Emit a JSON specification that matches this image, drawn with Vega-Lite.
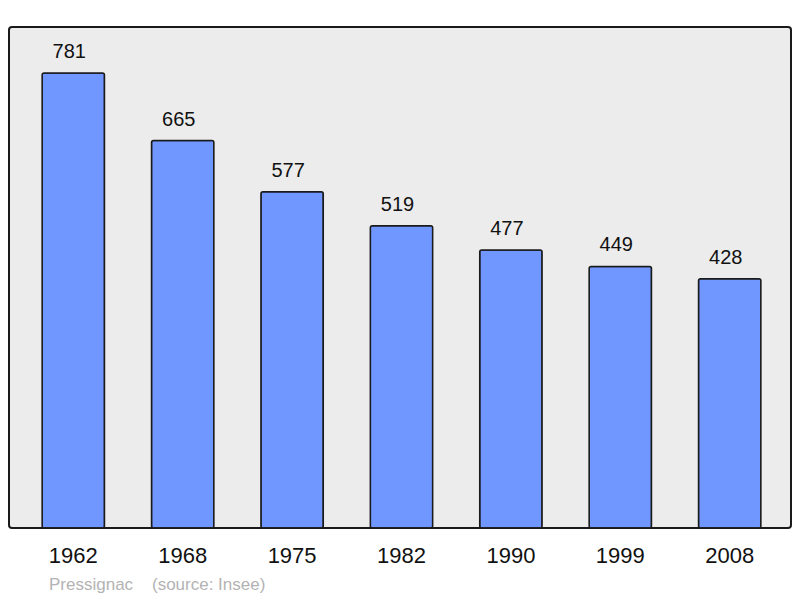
{
  "$schema": "https://vega.github.io/schema/vega-lite/v6.json",
  "width": 782,
  "height": 501,
  "autosize": {"type": "none"},
  "padding": {"left": 9, "top": 27, "right": 9, "bottom": 70},
  "background": "white",
  "data": {
    "values": [
      {"year": "1962", "population": 781},
      {"year": "1968", "population": 665},
      {"year": "1975", "population": 577},
      {"year": "1982", "population": 519},
      {"year": "1990", "population": 477},
      {"year": "1999", "population": 449},
      {"year": "2008", "population": 428}
    ]
  },
  "title": {
    "text": "Pressignac\u00a0\u00a0\u00a0\u00a0(source: Insee)",
    "orient": "bottom",
    "anchor": "start",
    "color": "#b3b3b3",
    "fontSize": 17,
    "fontWeight": "normal",
    "font": "Liberation Sans",
    "dx": 40,
    "offset": 11
  },
  "encoding": {
    "x": {
      "field": "year",
      "type": "ordinal",
      "sort": null,
      "scale": {"paddingInner": 0.43, "paddingOuter": 0.289, "range": [1.5, 783.5]},
      "axis": {
        "title": null,
        "labelAngle": 0,
        "ticks": false,
        "domain": false,
        "labelFontSize": 22,
        "labelFont": "Liberation Sans",
        "labelColor": "#111",
        "labelPadding": 17
      }
    },
    "y": {
      "field": "population",
      "type": "quantitative",
      "scale": {"domain": [0, 860], "nice": false},
      "axis": null
    }
  },
  "layer": [
    {
      "mark": {
        "type": "bar",
        "color": "#7096ff",
        "stroke": "#1a1a1a",
        "strokeWidth": 1.5,
        "cornerRadius": 2
      }
    },
    {
      "mark": {
        "type": "text",
        "baseline": "alphabetic",
        "dy": -15,
        "dx": -4,
        "fontSize": 20,
        "font": "Liberation Sans",
        "color": "#111"
      },
      "encoding": {"text": {"field": "population", "type": "quantitative"}}
    }
  ],
  "config": {
    "view": {
      "fill": "#ececec",
      "stroke": "#1a1a1a",
      "strokeWidth": 2,
      "cornerRadius": 3
    }
  }
}
